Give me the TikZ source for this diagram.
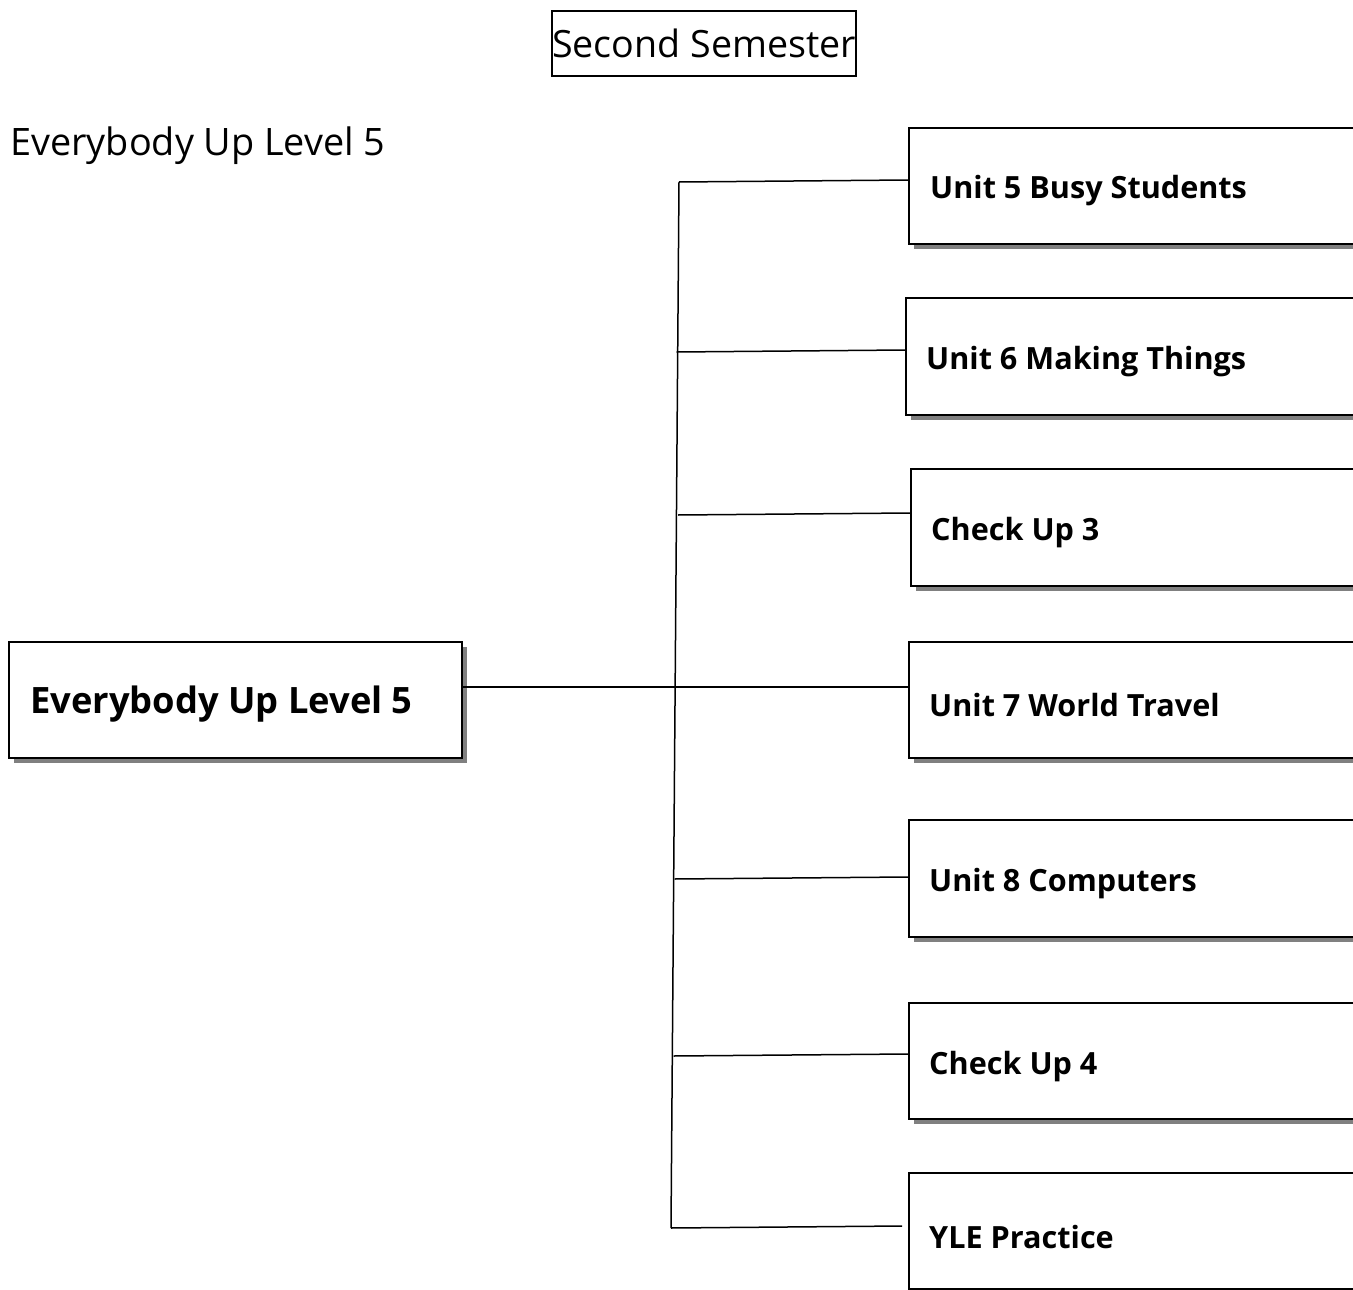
\documentclass[tikz,border=0pt]{standalone}
\usepackage{fontspec}
\setmainfont{Open Sans}
\usetikzlibrary{shadows}
\tikzset{
  line/.style={line width=1.5pt},
  sbox/.style={draw, line width=1.6pt, fill=white, anchor=north west, inner sep=0pt,
    drop shadow={shadow xshift=5.5pt, shadow yshift=-5.5pt, fill=gray, opacity=1}},
  lbl/.style={anchor=west, inner sep=0pt, font=\fontsize{30.6}{36}\selectfont\bfseries},
}
\begin{document}
\begin{tikzpicture}[x=1pt,y=-1pt]
\useasboundingbox (0,0) rectangle (1353,1290);
\clip (0,0) rectangle (1353,1290);
% title
\node[draw, line width=1.4pt, minimum width=304pt, minimum height=65pt, inner sep=0pt,
  font=\fontsize{37.6}{42}\selectfont] (title) at (704,43.5) {Second Semester};
\node[anchor=west, inner sep=0pt, font=\fontsize{37.8}{42}\selectfont] (sub) at (10,146) {Everybody Up Level 5};
% main box
\node[sbox, minimum width=453pt, minimum height=116pt] (main) at (8,641) {};
\node[lbl, font=\fontsize{36.3}{42}\selectfont\bfseries] (maint) at (30,704) {Everybody Up Level 5};
% right boxes
\node[sbox, minimum width=500pt, minimum height=116pt] (b1) at (908,127) {};
\node[sbox, minimum width=500pt, minimum height=117pt] (b2) at (905,297) {};
\node[sbox, minimum width=500pt, minimum height=117pt] (b3) at (910,468) {};
\node[sbox, minimum width=500pt, minimum height=116pt] (b4) at (908,641) {};
\node[sbox, minimum width=500pt, minimum height=117pt] (b5) at (908,819) {};
\node[sbox, minimum width=500pt, minimum height=116pt] (b6) at (908,1002) {};
\node[sbox, minimum width=500pt, minimum height=116pt] (b7) at (908,1172) {};
\node[lbl] (t1) at (930,191) {Unit 5 Busy Students};
\node[lbl] (t2) at (926,362) {Unit 6 Making Things};
\node[lbl] (t3) at (931,533) {Check Up 3};
\node[lbl] (t4) at (929,705) {Unit 7 World Travel};
\node[lbl] (t5) at (929,884) {Unit 8 Computers};
\node[lbl] (t6) at (929,1067) {Check Up 4};
\node[lbl] (t7) at (929,1237) {YLE Practice};
% trunk
\coordinate (j1) at (679,182);
\coordinate (j2) at (676.5,352);
\coordinate (j3) at (678,515);
\coordinate (j4) at (675,687);
\coordinate (j5) at (674.5,879);
\coordinate (j6) at (673.5,1056);
\coordinate (j7) at (671,1228);
\draw[line] (j1) -- (j7);
\draw[line] (j1) -- (b1.west |- 0,180);
\draw[line] (j2) -- (b2.west |- 0,350);
\draw[line] (j3) -- (b3.west |- 0,513);
\draw[line] (main.east |- j4) -- (b4.west |- j4);
\draw[line] (j5) -- (b5.west |- 0,877);
\draw[line] (j6) -- (b6.west |- 0,1054);
\draw[line] (j7) -- ([xshift=-6pt]b7.west |- 0,1226);
\end{tikzpicture}
\end{document}
